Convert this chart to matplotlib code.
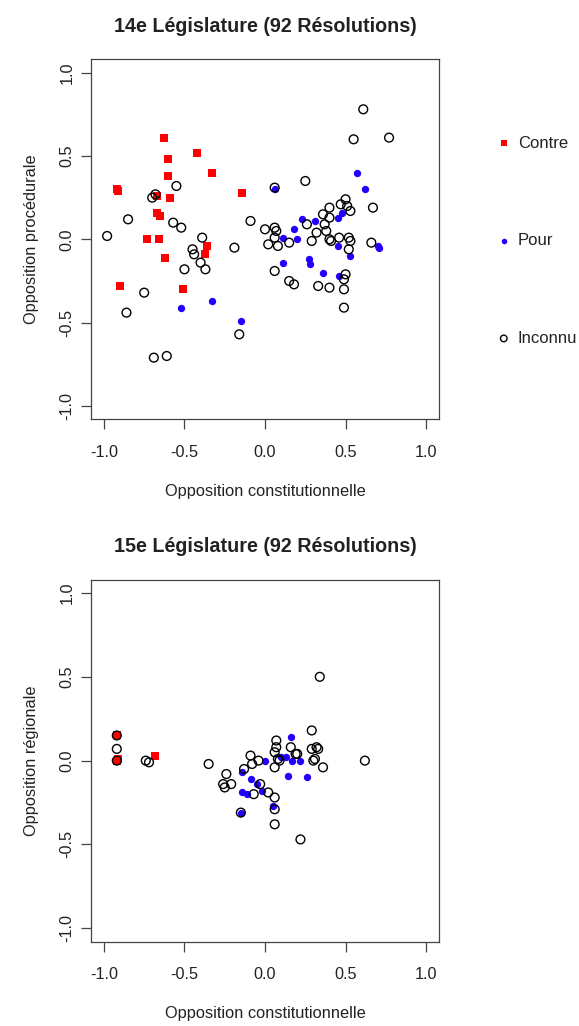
import matplotlib
matplotlib.use("Agg")
import matplotlib.pyplot as plt
import numpy as np

plt.rcParams['font.family'] = ['Liberation Sans', 'DejaVu Sans']

# 14e legislature
contre14_x = [-0.63, -0.91, -0.92, -0.42, -0.60, -0.33, -0.60, -0.14, -0.67, -0.59,
              -0.67, -0.65, -0.73, -0.66, -0.36, -0.37, -0.62, -0.90, -0.51]
contre14_y = [0.61, 0.29, 0.30, 0.52, 0.48, 0.40, 0.38, 0.28, 0.26, 0.25,
              0.16, 0.14, 0.00, 0.00, -0.04, -0.09, -0.11, -0.28, -0.30]
pour14_x = [-0.52, -0.33, -0.15, 0.06, 0.57, 0.62, 0.23, 0.31, 0.18, 0.11, 0.20,
            0.45, 0.48, 0.45, 0.70, 0.71, 0.11, 0.27, 0.28, 0.36, 0.46, 0.53]
pour14_y = [-0.41, -0.37, -0.49, 0.30, 0.40, 0.30, 0.12, 0.11, 0.06, 0.01, 0.00,
            0.13, 0.16, -0.04, -0.04, -0.05, -0.14, -0.12, -0.15, -0.20, -0.22, -0.10]
inconnu14_x = [-0.55, -0.70, -0.68, -0.85, -0.57, -0.52, -0.98, -0.39, -0.09, -0.19,
               -0.45, -0.44, -0.40, -0.50, -0.37, -0.75, -0.86, -0.16, -0.69, -0.61,
               0.61, 0.55, 0.77, 0.25, 0.06, 0.67, 0.50, 0.47, 0.51, 0.53,
               0.40, 0.36, 0.40, 0.37, 0.26, 0.32, 0.38, 0.00, 0.06, 0.07,
               0.06, 0.02, 0.08, 0.15, 0.29, 0.41, 0.40, 0.46, 0.52, 0.53,
               0.66, 0.52, 0.06, 0.15, 0.18, 0.33, 0.40, 0.49, 0.50, 0.49, 0.49]
inconnu14_y = [0.32, 0.25, 0.27, 0.12, 0.10, 0.07, 0.02, 0.01, 0.11, -0.05,
               -0.06, -0.09, -0.14, -0.18, -0.18, -0.32, -0.44, -0.57, -0.71, -0.70,
               0.78, 0.60, 0.61, 0.35, 0.31, 0.19, 0.24, 0.21, 0.20, 0.17,
               0.19, 0.15, 0.13, 0.09, 0.09, 0.04, 0.05, 0.06, 0.07, 0.05,
               0.01, -0.03, -0.04, -0.02, -0.01, -0.01, 0.00, 0.01, 0.01, -0.01,
               -0.02, -0.06, -0.19, -0.25, -0.27, -0.28, -0.29, -0.30, -0.21, -0.24, -0.41]

# 15e legislature
contre15_x = [-0.92, -0.92, -0.91, -0.68]
contre15_y = [0.15, 0.00, 0.01, 0.03]
pour15_x = [-0.14, -0.09, -0.05, -0.02, -0.14, -0.11, 0.05, -0.15, 0.00, 0.10,
            0.13, 0.16, 0.17, 0.22, 0.14, 0.26]
pour15_y = [-0.07, -0.11, -0.14, -0.18, -0.19, -0.20, -0.27, -0.31, 0.00, 0.02,
            0.02, 0.14, 0.00, 0.00, -0.09, -0.10]
inconnu15_x = [-0.92, -0.92, -0.92, -0.74, -0.72, -0.35, -0.24, -0.25, -0.21, -0.26,
               -0.13, -0.03, -0.07, 0.02, 0.06, 0.06, -0.15, 0.06, 0.22, -0.09,
               -0.08, -0.04, 0.06, 0.07, 0.07, 0.06, 0.08, 0.09, 0.16, 0.20,
               0.19, 0.29, 0.29, 0.32, 0.33, 0.31, 0.30, 0.36, 0.62, 0.34]
inconnu15_y = [0.15, 0.07, 0.00, 0.00, -0.01, -0.02, -0.08, -0.16, -0.14, -0.14,
               -0.05, -0.14, -0.20, -0.19, -0.22, -0.29, -0.31, -0.38, -0.47, 0.03,
               -0.02, 0.00, -0.04, 0.12, 0.08, 0.05, 0.01, 0.00, 0.08, 0.04,
               0.04, 0.18, 0.07, 0.08, 0.07, 0.01, 0.00, -0.04, 0.00, 0.50]

ticks = [-1.0, -0.5, 0.0, 0.5, 1.0]
tick_labels = ["-1.0", "-0.5", "0.0", "0.5", "1.0"]
RED = "#ff0000"
BLUE = "#2200ff"
TXT = "#222222"


def draw(ax, cx, cy, px, py, ix, iy, title, ylabel):
    ax.scatter(cx, cy, marker='s', s=34, color=RED, linewidths=0, label="Contre", zorder=2)
    ax.scatter(px, py, marker='o', s=28, color=BLUE, linewidths=0, label="Pour", zorder=2)
    ax.scatter(ix, iy, marker='o', s=40, facecolors='none', edgecolors='black',
               linewidths=1.0, label="Inconnu", zorder=3)
    ax.set_xlim(-1.08, 1.08)
    ax.set_ylim(-1.08, 1.08)
    ax.set_xticks(ticks)
    ax.set_xticklabels(tick_labels)
    ax.set_yticks(ticks)
    ax.set_yticklabels(tick_labels, rotation=90, va='center')
    ax.tick_params(axis='both', direction='out', length=7, width=0.9, colors='#444444',
                   labelcolor=TXT, labelsize=11.7)
    ax.tick_params(axis='x', pad=11.5)
    ax.tick_params(axis='y', pad=5)
    for sp in ax.spines.values():
        sp.set_color('#444444')
        sp.set_linewidth(0.9)
    ax.set_title(title, fontsize=14.2, fontweight='bold', color=TXT, pad=20)
    ax.set_xlabel("Opposition constitutionnelle", fontsize=11.8, color=TXT, labelpad=17)
    ax.set_ylabel(ylabel, fontsize=11.8, color=TXT, labelpad=15)


fig = plt.figure(figsize=(5.79, 10.26), dpi=100)
ax1 = fig.add_axes([0.1572, 0.5913, 0.601, 0.3509])
ax2 = fig.add_axes([0.1572, 0.0822, 0.601, 0.3529])

draw(ax1, contre14_x, contre14_y, pour14_x, pour14_y, inconnu14_x, inconnu14_y,
     "14e Législature (92 Résolutions)", "Opposition procédurale")
draw(ax2, contre15_x, contre15_y, pour15_x, pour15_y, inconnu15_x, inconnu15_y,
     "15e Législature (92 Résolutions)", "Opposition régionale")

leg = ax1.legend(loc='upper left', bbox_to_anchor=(1.143, 0.806), frameon=False,
                 fontsize=12, labelspacing=4.95, handletextpad=0.35, borderaxespad=0,
                 handlelength=1.0, scatterpoints=1, markerscale=0.75)
for t in leg.get_texts():
    t.set_color(TXT)

fig.savefig("out.png", dpi=100)
